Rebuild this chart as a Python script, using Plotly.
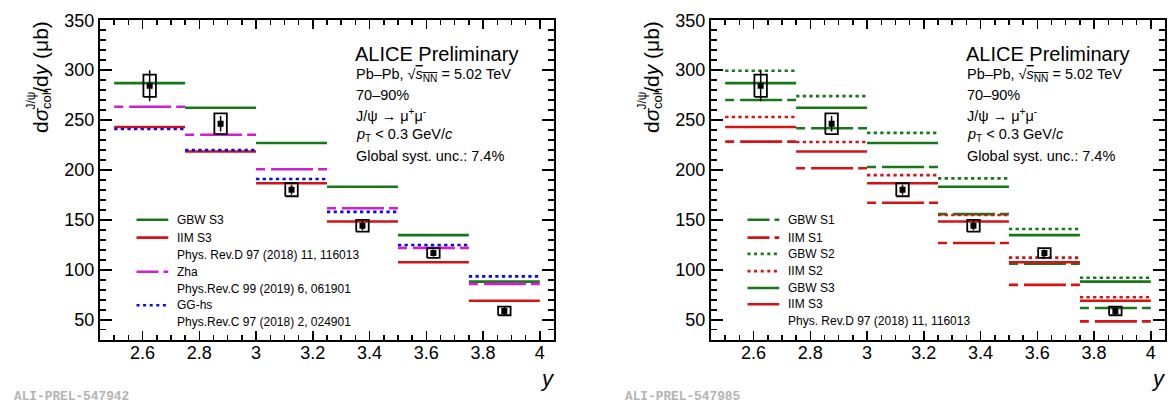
import plotly.graph_objects as go

# ---------------- data ----------------
bin_lo = [2.50, 2.75, 3.00, 3.25, 3.50, 3.75]
bin_hi = [2.75, 3.00, 3.25, 3.50, 3.75, 4.00]
y_center = [2.625, 2.875, 3.125, 3.375, 3.625, 3.875]
data_val = [284.4, 246.3, 180.3, 144.1, 116.8, 58.8]
data_stat = [15.5, 7.7, 5.0, 4.5, 3.5, 5.0]
data_syst = [11.2, 10.4, 6.6, 5.9, 4.9, 4.3]

gbw_s3 = [287.0, 262.3, 227.1, 183.2, 134.8, 88.2]
iim_s3 = [243.0, 218.6, 186.7, 148.4, 107.6, 69.1]
zha = [263.3, 235.3, 200.8, 161.7, 122.0, 85.9]
gg_hs = [241.1, 219.9, 191.0, 158.1, 124.9, 93.4]
gbw_s1 = [270.1, 241.8, 203.0, 155.8, 106.1, 61.7]
iim_s1 = [228.4, 201.8, 167.2, 126.9, 84.9, 48.4]
gbw_s2 = [299.4, 274.0, 237.2, 191.6, 140.9, 92.0]
iim_s2 = [253.1, 228.1, 194.9, 154.9, 112.2, 72.5]

x_range = [2.45, 4.05]
y_range = [30, 350.01]
x_ticks = [2.6, 2.8, 3.0, 3.2, 3.4, 3.6, 3.8, 4.0]
x_ticklabels = ["2.6", "2.8", "3", "3.2", "3.4", "3.6", "3.8", "4"]
y_ticks = [50, 100, 150, 200, 250, 300, 350]

left_refs = ["Phys. Rev.D 97 (2018) 11, 116013",
             "Phys.Rev.C 99 (2019) 6, 061901",
             "Phys.Rev.C 97 (2018) 2, 024901"]
right_ref = "Phys. Rev.D 97 (2018) 11, 116013"
prel_ids = ["ALI-PREL-547942", "ALI-PREL-547985"]

# ---------------- style ----------------
W, H = 1170, 408
FONT = "Liberation Sans"
GREEN = "#177817"
RED = "#d41414"
MAG = "#d01ed0"
BLUE = "#0a0ae6"
DASH_BIN = "9px,6px,42px,5px"
DOT = "3.3px,3.3px"
LW = 2.6

ax_left = [100, 554]
ax_right = [711, 1165]
y_top_px, y_bot_px = 10.5, 338


def px(x):
    return x / W


def py(y):
    return 1 - y / H


def steps(vals):
    xs, ys = [], []
    for lo, hi, v in zip(bin_lo, bin_hi, vals):
        xs += [lo, hi, None]
        ys += [v, v, None]
    return xs, ys


def boxes(w=0.022):
    xs, ys = [], []
    for c, v, s in zip(y_center, data_val, data_syst):
        xs += [c - w, c + w, c + w, c - w, c - w, None]
        ys += [v - s, v - s, v + s, v + s, v - s, None]
    return xs, ys


fig = go.Figure()


def add_model(vals, color, dash, xa, ya):
    xs, ys = steps(vals)
    fig.add_trace(go.Scatter(x=xs, y=ys, mode="lines", xaxis=xa, yaxis=ya,
                             line=dict(color=color, width=LW, dash=dash),
                             showlegend=False, hoverinfo="skip"))


def add_data(xa, ya):
    bx, by = boxes()
    fig.add_trace(go.Scatter(x=bx, y=by, mode="lines", xaxis=xa, yaxis=ya,
                             line=dict(color="black", width=1.8),
                             showlegend=False, hoverinfo="skip"))
    fig.add_trace(go.Scatter(x=y_center, y=data_val, mode="markers", xaxis=xa, yaxis=ya,
                             marker=dict(symbol="square", size=6, color="black"),
                             error_y=dict(type="data", array=data_stat, visible=True,
                                          color="black", thickness=1.5, width=0),
                             showlegend=False, hoverinfo="skip"))


# left panel
add_model(gbw_s3, GREEN, "solid", "x", "y")
add_model(iim_s3, RED, "solid", "x", "y")
add_model(zha, MAG, DASH_BIN, "x", "y")
add_model(gg_hs, BLUE, DOT, "x", "y")
add_data("x", "y")

# right panel
add_model(gbw_s1, GREEN, DASH_BIN, "x2", "y2")
add_model(iim_s1, RED, DASH_BIN, "x2", "y2")
add_model(gbw_s2, GREEN, DOT, "x2", "y2")
add_model(iim_s2, RED, DOT, "x2", "y2")
add_model(gbw_s3, GREEN, "solid", "x2", "y2")
add_model(iim_s3, RED, "solid", "x2", "y2")
add_data("x2", "y2")

axis_common = dict(showline=True, linecolor="black", linewidth=2, mirror="ticks",
                   ticks="inside", tickcolor="black", tickwidth=1.5,
                   showgrid=False, zeroline=False,
                   tickfont=dict(family=FONT, size=18, color="black"))

xcommon = dict(axis_common, range=x_range, tickmode="array", tickvals=x_ticks,
               ticktext=x_ticklabels, ticklen=9, ticklabelstandoff=-4,
               minor=dict(ticks="inside", ticklen=4.5, dtick=0.05, tick0=2.45,
                          tickcolor="black", tickwidth=1.5, showgrid=False))
ycommon = dict(axis_common, range=y_range, tickmode="array", tickvals=y_ticks,
               ticklen=12,
               minor=dict(ticks="inside", ticklen=6, dtick=10, tick0=0,
                          tickcolor="black", tickwidth=1.5, showgrid=False))

ydom = [py(y_bot_px), py(y_top_px)]

fig.update_layout(
    width=W, height=H, margin=dict(l=0, r=0, t=0, b=0),
    paper_bgcolor="white", plot_bgcolor="white", showlegend=False,
    hovermode=False,
    xaxis=dict(xcommon, domain=[px(ax_left[0]), px(ax_left[1])], anchor="y"),
    yaxis=dict(ycommon, domain=ydom, anchor="x"),
    xaxis2=dict(xcommon, domain=[px(ax_right[0]), px(ax_right[1])], anchor="y2"),
    yaxis2=dict(ycommon, domain=ydom, anchor="x2"),
)

ann = []
shapes = []


def text(x, y, s, size, xanchor="left", yanchor="middle", color="black",
         family=FONT, angle=0):
    ann.append(dict(x=px(x), y=py(y), xref="paper", yref="paper", text=s,
                    showarrow=False, xanchor=xanchor, yanchor=yanchor,
                    textangle=angle, borderpad=0,
                    font=dict(family=family, size=size, color=color)))


for ax0, ax1, pid in [(ax_left[0], ax_left[1], prel_ids[0]),
                      (ax_right[0], ax_right[1], prel_ids[1])]:
    # y-axis title (stacked super/subscript built from pieces)
    cx = ax0 - 59
    text(cx, 127, "d<i>σ</i>", 21, xanchor="center", yanchor="bottom", angle=-90)
    text(cx - 10, 103, "J/ψ", 12, xanchor="center", yanchor="bottom", angle=-90)
    text(cx + 6, 103, "coh", 13, xanchor="center", yanchor="bottom", angle=-90)
    text(cx, 10, "/d<i>y</i> (μb)", 21, xanchor="center", yanchor="top", angle=-90)
    # x-axis title
    text(ax1 - 6.5, 378, "<i>y</i>", 22, xanchor="center")
    # id label
    text(ax0 - 87, 396.5, "<b>" + pid + "</b>", 12.8, color="#b4b4b4",
         family="Liberation Mono")
    # info box
    tx = ax0 + 254
    text(tx, 45, "ALICE Preliminary", 20)
    text(tx + 1, 66.7, "Pb–Pb, √<span style=\"text-decoration:overline\"><i>s</i><sub>NN</sub></span> = 5.02 TeV", 14.5)
    text(tx + 1, 86.7, "70–90%", 14.5)
    text(tx + 1, 108, "J/ψ → μ<sup>+</sup>μ<sup>-</sup>", 14.5)
    text(tx + 1, 128.3, "<i>p</i><sub>T</sub> &lt; 0.3 GeV/<i>c</i>", 14.5)
    text(tx + 1, 150, "Global syst. unc.: 7.4%", 14.5)


def legend_line(ax0, y, color, dash):
    shapes.append(dict(type="line", xref="paper", yref="paper",
                       x0=px(ax0 + 36.5), x1=px(ax0 + 68.3), y0=py(y), y1=py(y),
                       line=dict(color=color, width=LW, dash=dash)))


LEG_DASH = "22px,5px,5px,5px"
LEG_DOT = "3px,3.6px"

# left legend
L = ax_left[0]
left_entries = [("GBW S3", GREEN, "solid", 215), ("IIM S3", RED, "solid", 233.3),
                (left_refs[0], None, None, 250.7), ("Zha", MAG, LEG_DASH, 268.3),
                (left_refs[1], None, None, 285.7), ("GG-hs", BLUE, LEG_DOT, 302.7),
                (left_refs[2], None, None, 320)]
for lab, col, dash, yy in left_entries:
    if col:
        legend_line(L, yy, col, dash)
    text(L + 75.7, yy, lab, 12)

R = ax_right[0]
right_entries = [("GBW S1", GREEN, LEG_DASH, 215), ("IIM S1", RED, LEG_DASH, 233.3),
                 ("GBW S2", GREEN, LEG_DOT, 250), ("IIM S2", RED, LEG_DOT, 267.7),
                 ("GBW S3", GREEN, "solid", 285), ("IIM S3", RED, "solid", 301.7),
                 (right_ref, None, None, 319)]
for lab, col, dash, yy in right_entries:
    if col:
        legend_line(R, yy, col, dash)
    text(R + 75.7, yy, lab, 12)

fig.update_layout(annotations=ann, shapes=shapes)
fig.write_html("out.html",
               config={"displayModeBar": False, "staticPlot": True},
               post_script="document.body.style.margin='0px';"
                           "document.body.style.overflow='hidden';")
